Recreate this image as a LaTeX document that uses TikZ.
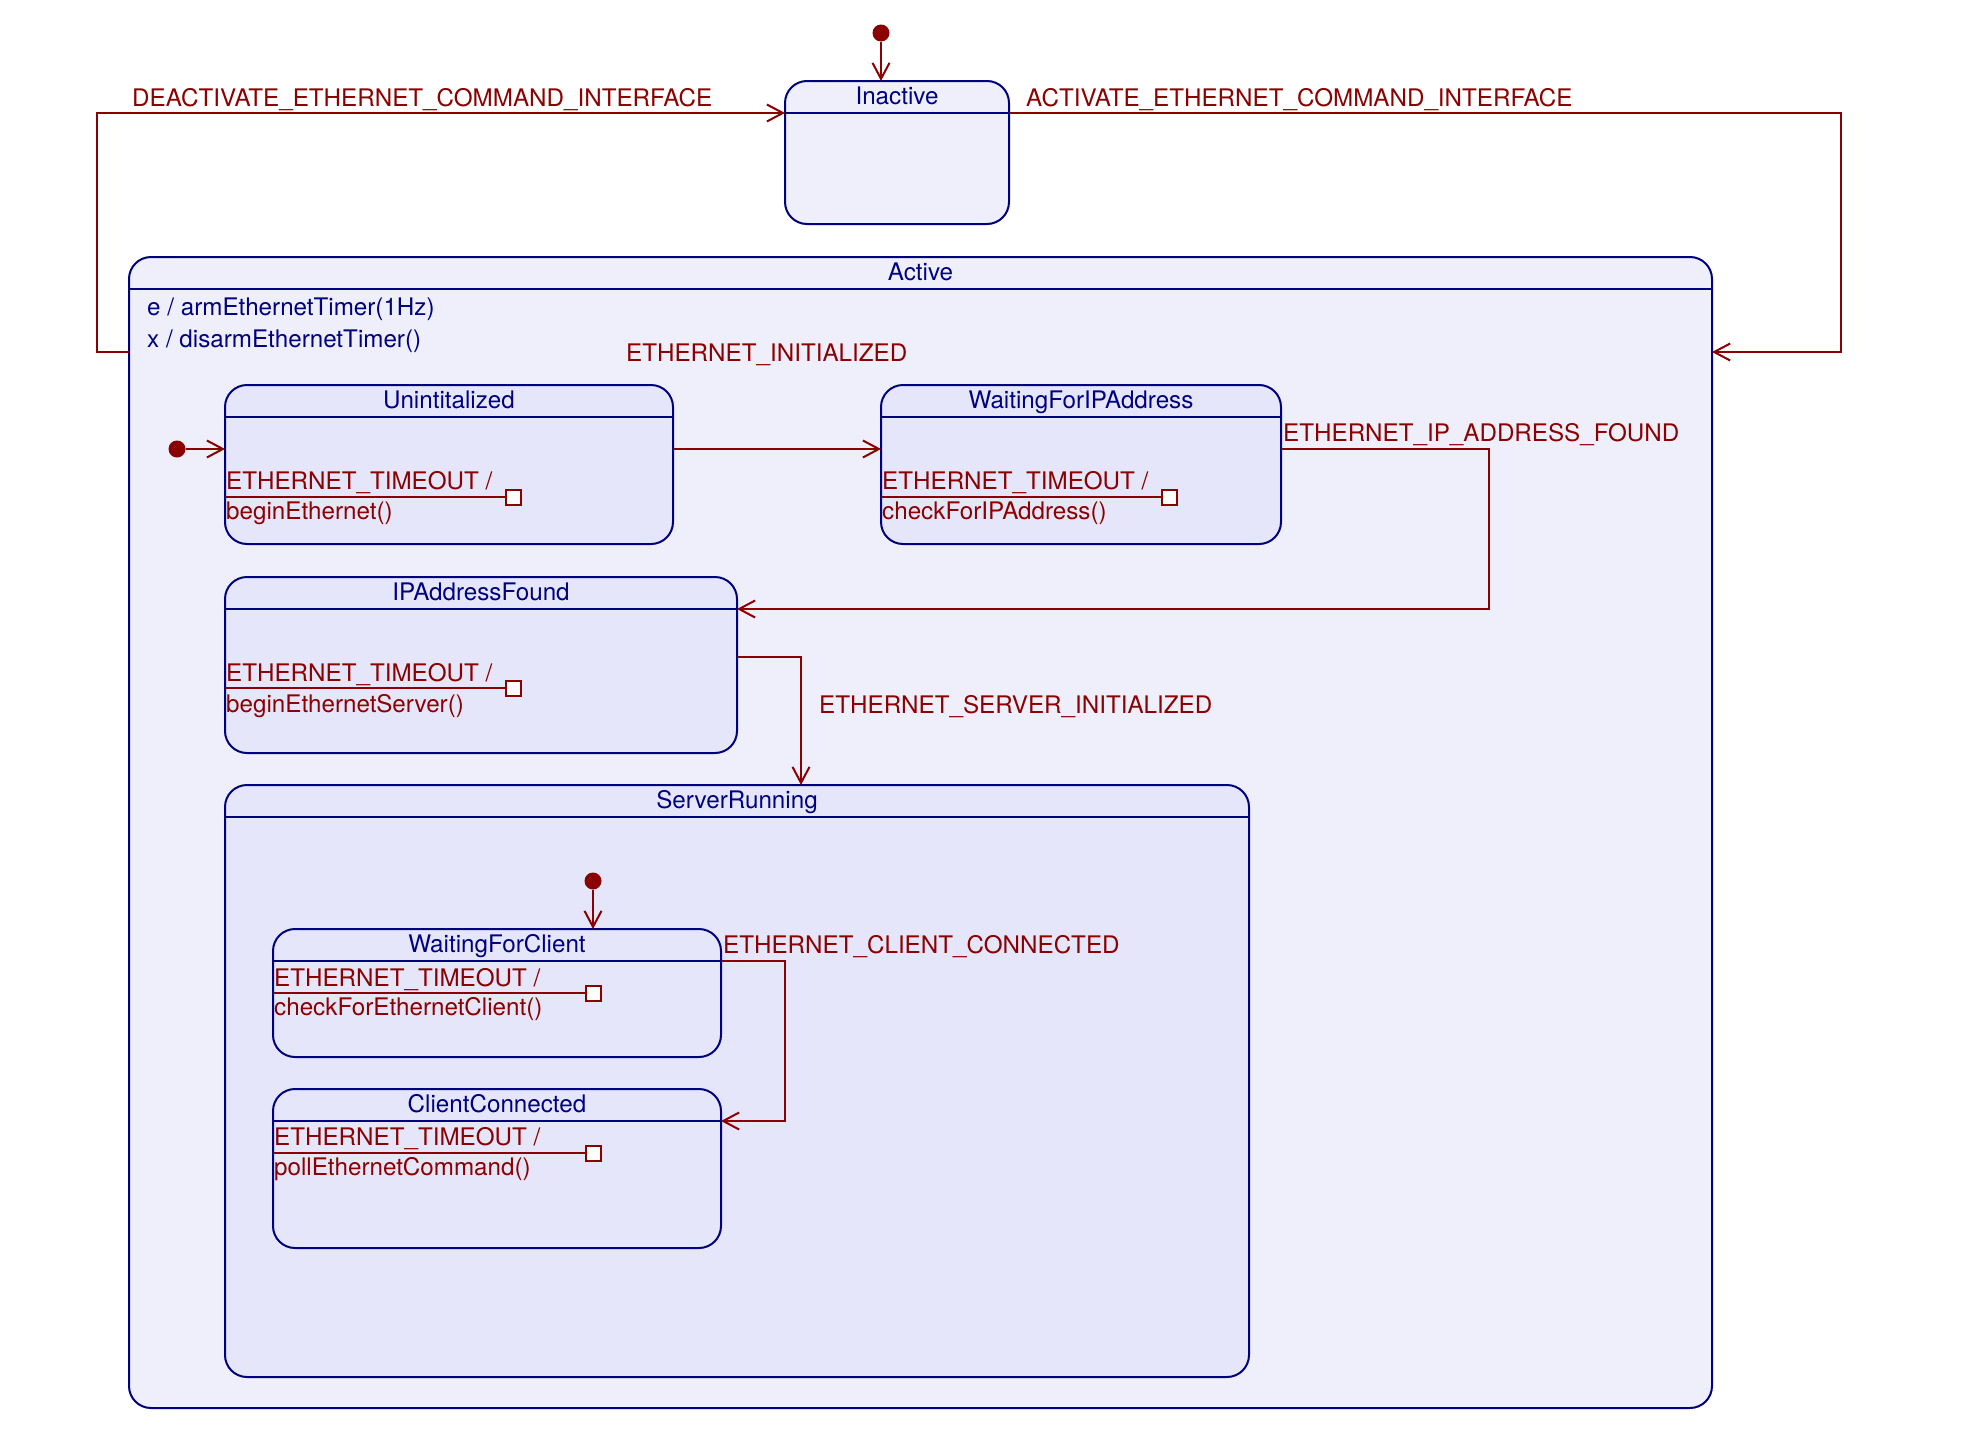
\documentclass[tikz,border=0pt]{standalone}
\usepackage{fontspec}
\setmainfont{TeX Gyre Heros}
\usetikzlibrary{arrows.meta}
\definecolor{stborder}{HTML}{000080}
\definecolor{trred}{HTML}{8B0000}
\definecolor{outerfill}{HTML}{EFEFFC}
\definecolor{innerfill}{HTML}{E6E6FA}
\begin{document}
\begin{tikzpicture}[x=1pt,y=-1pt,
  font=\fontsize{24.2pt}{29pt}\selectfont,
  state/.style={draw=stborder, line width=2pt, rounded corners=22pt,
    inner sep=0pt, outer sep=0pt, anchor=north west},
  outerstate/.style={state, fill=outerfill},
  innerstate/.style={state, fill=innerfill},
  hdr/.style={draw=stborder, line width=2pt},
  ttl/.style={text=stborder, anchor=base, inner sep=0pt},
  ent/.style={text=stborder, anchor=base west, inner sep=0pt},
  evt/.style={text=trred, anchor=base west, inner sep=0pt},
  trans/.style={draw=trred, line width=2pt,
    -{Straight Barb[length=16pt,width=17pt]}},
  tline/.style={draw=trred, line width=2pt},
  initdot/.style={circle, fill=trred, inner sep=0pt, minimum size=17pt},
  sq/.style={draw=trred, fill=white, line width=2pt, minimum size=15pt,
    inner sep=0pt}]
\useasboundingbox (0,0) rectangle (1984,1456);

% ---- top-level states
\node[outerstate, minimum width=1583pt, minimum height=1151pt] (active) at (129,257) {};
\node[outerstate, minimum width=224pt, minimum height=143pt] (inactive) at (785,81) {};

% ---- states nested in Active
\node[innerstate, minimum width=448pt, minimum height=159pt] (unint) at (225,385) {};
\node[innerstate, minimum width=400pt, minimum height=159pt] (wip) at (881,385) {};
\node[innerstate, minimum width=512pt, minimum height=176pt] (ipaf) at (225,577) {};
\node[innerstate, minimum width=1024pt, minimum height=592pt] (sr) at (225,785) {};

% ---- states nested in ServerRunning
\node[innerstate, minimum width=448pt, minimum height=128pt] (wfc) at (273,929) {};
\node[innerstate, minimum width=448pt, minimum height=159pt] (cc) at (273,1089) {};

% ---- header separators and titles
\foreach \s/\t in {active/Active, inactive/Inactive, unint/Unintitalized,
                   wip/WaitingForIPAddress, ipaf/IPAddressFound, sr/ServerRunning,
                   wfc/WaitingForClient, cc/ClientConnected}{
  \coordinate (\s-hw) at ([yshift=-32pt]\s.north west);
  \coordinate (\s-he) at ([yshift=-32pt]\s.north east);
  \draw[hdr] (\s-hw) -- (\s-he);
  \node[ttl] (\s-title) at ([yshift=-23pt]\s.north) {\t};
}

% ---- entry / exit actions of Active
\node[ent] (active-entry) at (147,315) {e / armEthernetTimer(1Hz)};
\node[ent] (active-exit) at (147,347) {x / disarmEthernetTimer()};

% ---- internal transitions
\node[evt] (unint-ev) at (226,489) {ETHERNET\_TIMEOUT /};
\node[sq] (unint-sq) at (513,497) {};
\draw[tline] (unint.west |- unint-sq) -- (unint-sq.west);
\node[evt] (unint-act) at (226,519) {beginEthernet()};

\node[evt] (wip-ev) at (882,489) {ETHERNET\_TIMEOUT /};
\node[sq] (wip-sq) at (1169,497) {};
\draw[tline] (wip.west |- wip-sq) -- (wip-sq.west);
\node[evt] (wip-act) at (882,519) {checkForIPAddress()};

\node[evt] (ipaf-ev) at (226,681) {ETHERNET\_TIMEOUT /};
\node[sq] (ipaf-sq) at (513,688) {};
\draw[tline] (ipaf.west |- ipaf-sq) -- (ipaf-sq.west);
\node[evt] (ipaf-act) at (226,712) {beginEthernetServer()};

\node[evt] (wfc-ev) at (274,986) {ETHERNET\_TIMEOUT /};
\node[sq] (wfc-sq) at (593,993) {};
\draw[tline] (wfc.west |- wfc-sq) -- (wfc-sq.west);
\node[evt] (wfc-act) at (274,1015) {checkForEthernetClient()};

\node[evt] (cc-ev) at (274,1145) {ETHERNET\_TIMEOUT /};
\node[sq] (cc-sq) at (593,1153) {};
\draw[tline] (cc.west |- cc-sq) -- (cc-sq.west);
\node[evt] (cc-act) at (274,1175) {pollEthernetCommand()};

% ---- initial pseudo-states
\node[initdot] (init-top) at (881,33) {};
\draw[trans] (init-top) -- (inactive.north -| init-top);
\node[initdot] (init-active) at (177,449) {};
\draw[trans] (init-active) -- (unint.west |- init-active);
\node[initdot] (init-sr) at (593,881) {};
\draw[trans] (init-sr) -- (wfc.north -| init-sr);

% ---- Active <-> Inactive
\coordinate (deact-a) at (97,352);
\coordinate (deact-b) at (97,113);
\draw[trans] (active.west |- deact-a) -- (deact-a) -- (deact-b) -- (inactive-hw);
\node[evt] (deact-lbl) at (132,106) {DEACTIVATE\_ETHERNET\_COMMAND\_INTERFACE};

\coordinate (act-a) at (1841,113);
\coordinate (act-b) at (1841,352);
\draw[trans] (inactive-he) -- (act-a) -- (act-b) -- (active.east |- act-b);
\node[evt] (act-lbl) at (1026,106) {ACTIVATE\_ETHERNET\_COMMAND\_INTERFACE};

% ---- transitions inside Active
\coordinate (row1) at (0,449);
\draw[trans] (unint.east |- row1) -- (wip.west |- row1);
\node[evt] (init-lbl) at (626,361) {ETHERNET\_INITIALIZED};

\coordinate (ipf-a) at (1489,449);
\coordinate (ipf-b) at (1489,609);
\draw[trans] (wip.east |- ipf-a) -- (ipf-a) -- (ipf-b) -- (ipaf-he);
\node[evt] (ipf-lbl) at (1283,441) {ETHERNET\_IP\_ADDRESS\_FOUND};

\coordinate (srv-a) at (801,657);
\draw[trans] (ipaf.east |- srv-a) -- (srv-a) -- (sr.north -| srv-a);
\node[evt] (srv-lbl) at (819,713) {ETHERNET\_SERVER\_INITIALIZED};

% ---- transition inside ServerRunning
\coordinate (cli-a) at (785,961);
\coordinate (cli-b) at (785,1121);
\draw[trans] (wfc-he) -- (cli-a) -- (cli-b) -- (cc-he);
\node[evt] (cli-lbl) at (723,953) {ETHERNET\_CLIENT\_CONNECTED};
\end{tikzpicture}
\end{document}
